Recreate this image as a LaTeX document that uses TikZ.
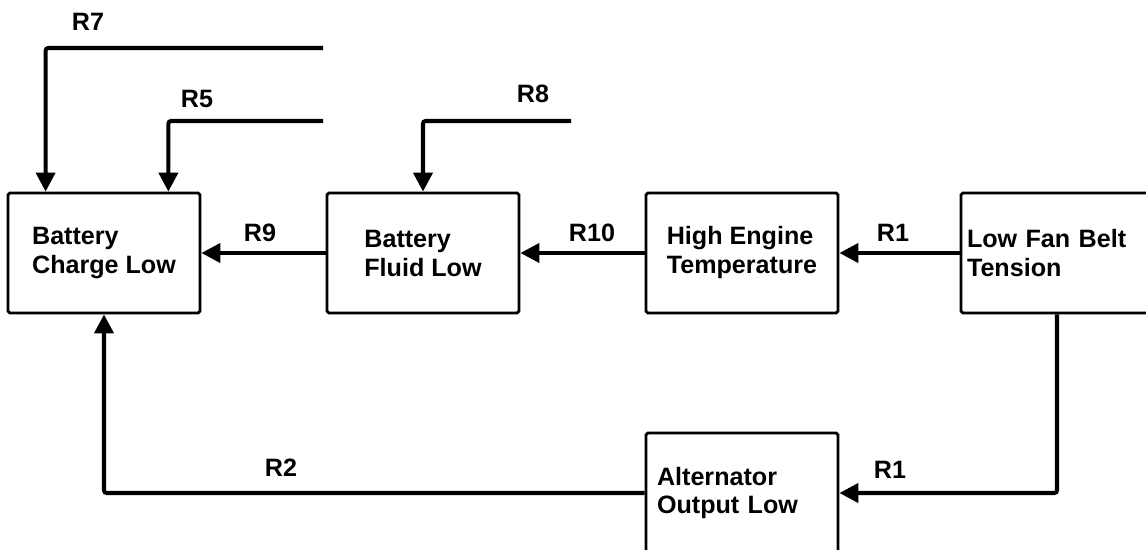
\documentclass[tikz,border=0pt]{standalone}
\usepackage{fontspec}
\setmainfont{Liberation Sans}
\usetikzlibrary{arrows.meta,positioning}

\begin{document}
\begin{tikzpicture}[x=0.02cm,y=-0.02cm,
  b/.style={draw,line width=1.6pt,rounded corners=1pt,align=left,minimum width=3.84cm,minimum height=2.4cm,inner sep=0pt,font=\bfseries\fontsize{14.3}{16.5}\selectfont},
  l/.style={inner sep=0pt,font=\bfseries\fontsize{14.3}{16.5}\selectfont},
  c/.style={line width=2.3pt,rounded corners=1.5pt},
  >={Triangle[length=0.38cm,width=0.38cm]}]
\useasboundingbox (0,0) rectangle (1146,550);
\clip (0,0) rectangle (1146,550);
% boxes
\node[b] (bc) at (104,253) {Battery\\Charge Low};
\node[b] (bf) at (423,253) {Battery\\Fluid Low};
\node[b] (ht) at (742,253) {High Engine\\Temperature};
\node[b,text width=3.6cm] (lf) at (1057,253) {Low Fan Belt\\Tension};
\node[b,text width=3.4cm] (ao) at (742,493) {Alternator\\Output Low};
% free ends
\coordinate (r7s) at (323,48);
\coordinate (r5s) at (323,121);
\coordinate (r8s) at (571,121);
% labels
\node[l] (r7) at (88,22) {R7};
\node[l] (r5) at (197,99) {R5};
\node[l] (r8) at (533,94) {R8};
\node[l] (r9) at (260,233) {R9};
\node[l] (r10) at (592,233) {R10};
\node[l] (r1a) at (893,233) {R1};
\node[l] (r1b) at (890,470) {R1};
\node[l] (r2) at (281,468) {R2};
% connectors
\draw[c,->] (r7s) -| ([xshift=0.78cm]bc.north west);
\draw[c,->] (r5s) -| ([xshift=-0.66cm]bc.north east);
\draw[c,->] (r8s) -| (bf.north);
\draw[c,->] (bf) -- (bc);
\draw[c,->] (ht) -- (bf);
\draw[c,->] (lf) -- (ht);
\draw[c,->] (lf.south) |- (ao.east);
\draw[c,->] (ao.west) -| (bc.south);
\end{tikzpicture}
\end{document}
